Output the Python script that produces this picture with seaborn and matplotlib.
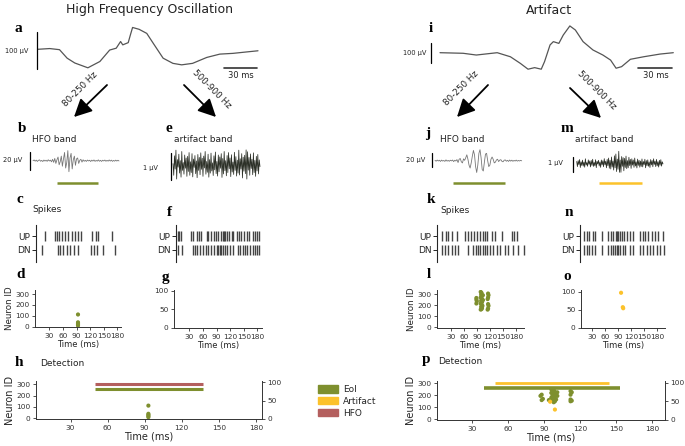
import numpy as np
import seaborn as sns
import matplotlib.pyplot as plt
from matplotlib.patches import Patch, FancyArrowPatch

# -------------------------------------------------
# data
# -------------------------------------------------
# raw traces (ms, µV)
hfo_raw_t = [0, 11, 20, 27, 34, 46, 57, 66, 72, 76, 78, 83, 85, 87, 93, 100, 106, 115,
             124, 132, 142, 155, 167, 179, 192, 202]
hfo_raw_v = [0, 2, -1, -24, -37, -50, -33, -2, 3, 21, 12, 18, 39, 59, 54, 43, 16, -24,
             -38, -42, -38, -22, -13, -11, -7, -4]
art_raw_t = [0, 21, 33, 52, 64, 73, 80, 86, 92, 95, 100, 103, 108, 112, 118, 123, 130,
             139, 148, 155, 160, 165, 173, 185, 200, 212]
art_raw_v = [0, -3, -12, 0, -21, -55, -85, -77, -85, -46, 40, 57, 48, 91, 138, 117, 57,
             14, -12, -38, -80, -72, -34, -21, -7, 0]

# 80-250 Hz band (µV), HFO case and artifact case
hfo_band = [0, 0.8, -0.5, 0.6, -0.8, 0.4, 0.9, -0.6, 0.3, -0.9, 0.7, -0.4, 0.5, -0.7, 1.0,
            -0.3, 0.6, -1.2, 1.5, -1.8,
            2.5, -3, 1, 4, -4.5, -1, 5, -6, 2, 9, -8, -2, 11, -12, 3, 8, -9, 1, 5, -5,
            2, 3, -3, 0.5, 1.5, -1.5,
            1.0, -0.6, 0.4, -0.8, 0.7, -0.3, 0.5, -0.9, 0.6, -0.4, 0.8, -0.7, 0.3, -0.5,
            0.9, -0.6, 0.4, -0.8, 0.5, -0.3, 0.7, -0.6, 0.4, -0.5, 0.8, -0.4, 0.6, -0.7,
            0.3, -0.5, 0.6, -0.4, 0.5, -0.3]
art_hfo_band = [0.5, -0.7, 0.9, -0.4, 0.6, -1.0, 0.8, -0.5, 0.3, -0.9, 1.1, -0.6, 0.4,
                -0.8, 0.7, -0.3, 0.9, -1.2, 0.6, -0.4, 1.5, -2.5, 2, 3, -1.5, -3, 2.5, 0.5,
                4, 8, 2, -6, -10, -3, 6, 14, 8, -8, -16, -6, 10, 15, 4, -12, -14, -2, 9, 10,
                0, -8, -6, 2, 5, 2, -3, -2, 1, 2,
                -1.2, 0.8, 1.4, -0.9, -1.5, 0.6, 1.1, -0.7, 0.5, -1.0, 0.9, -0.6, 0.7,
                -0.8, 0.4, -0.5, 0.8, -0.6, 0.3, -0.4, 0.5, -0.2]
# 500-900 Hz band (µV)
hfo_art_band = [0.05, -0.38, 0.34, -0.15, 0.55, -0.52, 0.2, -0.08, 0.4, -0.3,
                0.16, -0.45, 0.5, -0.2, 0.09, -0.34, 0.37, -0.12, 0.26, -0.42,
                0.32, -0.24, 0.46, -0.38, 0.12, -0.28, 0.42, -0.44, 0.22, -0.09,
                0.35, -0.32, 0.15, -0.47, 0.39, -0.2, 0.28, -0.36, 0.45, -0.16,
                0.25, -0.42, 0.33, -0.11, 0.5, -0.34, 0.13, -0.27, 0.4, -0.45,
                0.2, -0.3, 0.44, -0.22, 0.08, -0.39, 0.34, -0.18, 0.48, -0.32,
                0.13, -0.41, 0.37, -0.25, 0.3, -0.12, 0.42, -0.46, 0.24, -0.33,
                0.5, -0.21, 0.16, -0.4, 0.35, -0.28, 0.46, -0.14, 0.26, -0.43,
                0.38, -0.26, 0.11, -0.35, 0.47, -0.2, 0.31, -0.41, 0.18, -0.3,
                0.55, -0.37, 0.23, -0.15, 0.42, -0.48, 0.29, -0.23, 0.36, -0.32,
                0.56, -0.52, 0.49, -0.19, 0.28, -0.38, 0.41, -0.13, 0.21, -0.36,
                0.45, -0.28, 0.17, -0.42, 0.32, -0.22, 0.39, -0.33, 0.19, -0.06]
art_art_band = [0.12, -0.22, 0.18, -0.09, 0.25, -0.28, 0.1, -0.15, 0.21, -0.19,
                0.08, -0.26, 0.3, -0.12, 0.05, -0.2, 0.23, -0.07, 0.16, -0.24,
                0.19, -0.14, 0.27, -0.21, 0.06, -0.17, 0.24, -0.29, 0.13, -0.05,
                0.2, -0.18, 0.09, -0.27, 0.22, -0.11, 0.17, -0.23, 0.31, -0.1,
                0.14, -0.3, 0.26, -0.16, 0.35, -0.33, 0.2, -0.38, 0.42, -0.25,
                0.15, -0.45, 0.5, -0.3, 0.62, -0.55, 0.28, -0.4, 0.8, -0.6,
                0.22, -0.6, 0.45, -0.2, 0.38, -0.5, 0.33, -0.28, 0.48, -0.36,
                0.18, -0.3, 0.4, -0.15, 0.26, -0.34, 0.3, -0.12, 0.22, -0.27,
                0.35, -0.18, 0.1, -0.31, 0.28, -0.14, 0.2, -0.26, 0.15, -0.21,
                0.29, -0.24, 0.12, -0.09, 0.27, -0.3, 0.18, -0.16, 0.23, -0.2,
                0.09, -0.28, 0.25, -0.11, 0.19, -0.23, 0.3, -0.08, 0.14, -0.22,
                0.26, -0.17, 0.11, -0.25, 0.2, -0.13, 0.24, -0.19, 0.1, -0.04]
hfo_band_dt, art_hfo_band_dt, fast_dt = 2.3, 2.4, 1.6  # ms per sample

# spike times (ms)
c_up = [17, 41, 45, 51, 57, 65, 73, 81, 89, 97, 103, 129, 139, 143, 177]
c_dn = [9, 49, 53, 61, 69, 77, 86, 97, 126, 135, 141, 157, 185]
f_up = [0, 3, 8, 31, 35, 43, 49, 54, 66, 69, 75, 83, 87, 93, 100, 104, 106, 108, 112, 118,
        124, 127, 136, 141, 146, 152, 158, 164, 173, 177, 182, 187]
f_dn = [1, 9, 34, 39, 44, 51, 58, 64, 70, 77, 83, 89, 93, 96, 100, 104, 108, 112, 120, 126,
        139, 143, 149, 154, 159, 166, 172, 177, 182, 187]
k_up = [1.5, 11, 16, 24, 35, 53, 60, 65, 73, 79, 86, 92, 97, 102, 112, 119, 134, 156, 161, 167]
k_dn = [1.5, 9, 16, 24, 31, 38, 60, 71, 77, 82, 86, 92, 97, 102, 108, 115, 123, 130, 141, 148,
        159, 170, 183]
n_up = [2, 8, 14, 21, 26, 41, 56, 61, 67, 73, 74, 78, 81, 85, 90, 96, 103, 111, 125, 131, 136,
        144, 151, 158, 166, 177]
n_dn = [2, 8, 14, 19, 26, 41, 56, 61, 65, 70, 74, 78, 81, 87, 92, 103, 111, 125, 132, 140, 147,
        154, 162, 169, 178]

# neurons of the spiking network that fired (time ms, neuron id)
d_time = [93, 93, 93, 93, 93]
d_id = [10, 20, 30, 40, 112]
l_time = [88, 88, 89, 88, 98, 100, 99, 101, 98, 100, 102, 99, 101, 98, 100, 102, 99, 101, 100,
          98, 103, 103, 115, 116, 115, 114, 115, 116, 115, 114]
l_id = [265, 250, 235, 215, 320, 310, 295, 285, 270, 262, 250, 240, 228, 215, 205, 195, 185,
        175, 165, 160, 245, 290, 305, 290, 270, 255, 210, 195, 170, 160]
o_time = [97, 101, 102]
o_id = [97, 57, 54]
p_time = [88, 87, 89, 88, 96, 98, 97, 99, 96, 98, 100, 97, 99, 96, 98, 100, 97, 99, 98, 101,
          101, 94, 112, 113, 112, 112, 113, 112]
p_id = [205, 195, 170, 160, 250, 245, 235, 228, 220, 212, 205, 198, 190, 180, 172, 165, 158,
        150, 142, 195, 225, 160, 235, 225, 205, 165, 155, 150]
p_art_time = [95, 99]
p_art_id = [49, 28]

# detected windows (ms)
hfo_eoi_win = (50, 137)
hfo_hfo_win = (50, 137)
art_eoi_win = (40, 153)
art_art_win = (49, 144)

time_ticks = [30, 60, 90, 120, 150, 180]
EOI, ART, HFO = "#7e8f2e", "#fcc22b", "#b45f5e"

# -------------------------------------------------
# helpers (layout in reference pixels, top-left origin)
# -------------------------------------------------
W, H = 685, 446
sns.set_style("ticks")
plt.rcParams["font.family"] = ["DejaVu Sans"]
fig = plt.figure(figsize=(W / 100, H / 100), dpi=100)


def add_ax(x0, y0, x1, y1):
    return fig.add_axes([x0 / W, 1 - y1 / H, (x1 - x0) / W, (y1 - y0) / H])


def span(lo, hi, p0, v0, p1, v1):
    s = (v1 - v0) / (p1 - p0)
    return v0 + (lo - p0) * s, v0 + (hi - p0) * s


def txt(x, y, s, size=6.5, **kw):
    kw.setdefault("va", "center")
    fig.text(x / W, 1 - y / H, s, fontsize=size, color="#222222", **kw)


def letter(x, y, s):
    fig.text(x / W, 1 - y / H, s, fontsize=11, ha="center", va="center",
             family="Liberation Serif", weight="bold", color="black")


def arrow(x0, y0, x1, y1):
    fig.add_artist(FancyArrowPatch((x0 / W, 1 - y0 / H), (x1 / W, 1 - y1 / H),
                                   transform=fig.transFigure, color="black", lw=1.3,
                                   arrowstyle="-|>,head_length=0.9,head_width=0.45",
                                   mutation_scale=12, shrinkA=0, shrinkB=0))


def trace(box, t, v, xref, yref, color, lw, bar_px, bar_lo, bar_hi):
    ax = add_ax(*box)
    sns.lineplot(x=t, y=v, ax=ax, color=color, lw=lw, estimator=None)
    ax.set_xlim(span(box[0], box[2], *xref))
    ax.set_ylim(span(box[3], box[1], *yref))
    bx = span(bar_px, bar_px, *xref)[0]
    ax.plot([bx, bx], [bar_lo, bar_hi], color="black", lw=0.9, clip_on=False)
    ax.axis("off")
    return ax


def raster(box, up, dn, xref):
    ax = add_ax(*box)
    ax.eventplot([dn, up], lineoffsets=[0, 1], linelengths=0.65, colors="#444444",
                 linewidths=1.0)
    ax.set_xlim(span(box[0], box[2], *xref))
    ax.set_ylim(-0.86, 1.79)
    ax.set_yticks([0, 1], ["DN", "UP"])
    ax.set_xticks([])
    sns.despine(ax=ax, bottom=True)
    ax.spines["left"].set_linewidth(0.8)
    ax.tick_params(axis="y", length=3, width=0.7, pad=1, labelsize=6.5)
    ax.set_facecolor("none")


def style_ax(ax, size=5.3):
    for s in ax.spines.values():
        s.set_linewidth(0.7)
        s.set_color("#333333")
    ax.tick_params(length=2.5, width=0.6, pad=1.5, labelsize=size, colors="#333333")
    ax.set_facecolor("none")


def scatter(box, xlim, ylim, yticks, times, ids, color, ylabel=True):
    ax = add_ax(*box)
    if times:
        sns.scatterplot(x=times, y=ids, ax=ax, color=color, s=9, edgecolor="none")
    ax.set_xlim(xlim)
    ax.set_ylim(ylim)
    ax.set_xticks(time_ticks)
    ax.set_yticks(yticks)
    sns.despine(ax=ax)
    style_ax(ax)
    ax.set_xlabel("Time (ms)", fontsize=6, labelpad=1)
    ax.set_ylabel("Neuron ID" if ylabel else "", fontsize=6.3, labelpad=1)
    return ax


def detection(box, xlim, ylim, ylim2, times, ids, wins, art_times=None, art_ids=None):
    ax = add_ax(*box)
    ax2 = ax.twinx()
    for level, (a, b), color, lw in wins:
        ax.hlines(level, a, b, color=color, lw=lw)
    sns.scatterplot(x=times, y=ids, ax=ax, color=EOI, s=9, edgecolor="none", zorder=3)
    if art_times:
        sns.scatterplot(x=art_times, y=art_ids, ax=ax2, color=ART, s=9, edgecolor="none")
    ax.set_xlim(xlim)
    ax.set_ylim(ylim)
    ax2.set_ylim(ylim2)
    ax.set_xticks(time_ticks)
    ax.set_yticks([0, 100, 200, 300])
    ax2.set_yticks([0, 50, 100])
    sns.despine(ax=ax)
    ax2.spines["top"].set_visible(False)
    ax2.spines["left"].set_visible(False)
    ax2.spines["bottom"].set_visible(False)
    style_ax(ax)
    style_ax(ax2)
    ax.set_xlabel("Time (ms)", fontsize=7, labelpad=1)
    ax.set_ylabel("Neuron ID", fontsize=7, labelpad=1)
    ax2.set_ylabel("")


# -------------------------------------------------
# left column: High Frequency Oscillation
# -------------------------------------------------
txt(149, 10, "High Frequency Oscillation", size=9, ha="center")
ax_a = trace((30, 20, 262, 80), hfo_raw_t, hfo_raw_v, (37.7, 0, 258, 202),
             (49.3, 0, 12.3, 100), "#555555", 0.9, 37, -53, 47)
ax_a.plot([171, 201], [-50.5, -50.5], color="#333333", lw=1.2)
txt(5, 51, "100 µV", size=4.8)
txt(241, 76, "30 ms", size=6, ha="center")

arrow(107, 85, 74, 117)
arrow(184, 85, 216, 117)
txt(80, 89, "80-250 Hz", size=6.3, ha="center", rotation=45)
txt(212, 89, "500-900 Hz", size=6.3, ha="center", rotation=-45)

n_b = len(hfo_band)
ax_b = trace((26, 143, 124, 190), np.arange(n_b) * hfo_band_dt, hfo_band,
             (33, 0, 119, (n_b - 1) * hfo_band_dt), (160.7, 0, 142.4, 20),
             "#777777", 0.6, 30, -10.2, 9.8)
ax_b.hlines(0.14, *hfo_eoi_win, color=EOI, lw=1.8, transform=ax_b.get_xaxis_transform())
txt(32, 139, "HFO band")
txt(3, 160, "20 µV", size=4.8)

n_e = len(hfo_art_band)
trace((166, 143, 264, 190), np.arange(n_e) * fast_dt, hfo_art_band,
      (173, 0, 260, (n_e - 1) * fast_dt), (165, 0, 138, 1),
      "#2d3128", 0.55, 170.7, -0.55, 0.45)
txt(174, 139, "artifact band")
txt(143, 168, "1 µV", size=4.8)

txt(32, 210, "Spikes")
raster((36, 225, 122, 262), c_up, c_dn, (38, 0, 118, 192))
raster((176, 225, 263, 262), f_up, f_dn, (178, 0, 278, 230))

scatter((35, 290, 121, 327), (-2, 188), (-3, 337), [0, 100, 200, 300], d_time, d_id, EOI)
scatter((174, 290, 262, 328), (-4, 190), (-0.8, 102.7), [0, 50, 100], [], [], EOI,
        ylabel=False)

txt(40, 364, "Detection")
detection((36, 381, 262, 419), (2, 185), (-6, 329), (-0.5, 103.5), d_time, d_id,
          [(305, hfo_hfo_win, HFO, 2.2), (260, hfo_eoi_win, EOI, 2.2)])

# -------------------------------------------------
# right column: Artifact
# -------------------------------------------------
txt(549, 10, "Artifact", size=9, ha="center")
ax_i = trace((425, 20, 680, 80), art_raw_t, art_raw_v, (440, 0, 673.3, 212),
             (52.7, 0, 33.3, 100), "#555555", 0.9, 431, -52, 48)
ax_i.plot([180, 211], [-79, -79], color="#333333", lw=1.2)
txt(403, 52.7, "100 µV", size=4.8)
txt(656, 76, "30 ms", size=6, ha="center")

arrow(488, 85, 457, 117)
arrow(570, 88, 601, 118)
txt(461, 88, "80-250 Hz", size=6.3, ha="center", rotation=45)
txt(597, 90, "500-900 Hz", size=6.3, ha="center", rotation=-45)

n_j = len(art_hfo_band)
ax_j = trace((428, 143, 526, 190), np.arange(n_j) * art_hfo_band_dt, art_hfo_band,
             (435, 0, 521.7, (n_j - 1) * art_hfo_band_dt), (160.7, 0, 146, 20),
             "#777777", 0.6, 432, -9.0, 10.9)
ax_j.hlines(0.14, *art_eoi_win, color=EOI, lw=1.8, transform=ax_j.get_xaxis_transform())
txt(440, 139, "HFO band")
txt(406, 160, "20 µV", size=4.8)

n_m = len(art_art_band)
ax_m = trace((570, 143, 667, 190), np.arange(n_m) * fast_dt, art_art_band,
             (576.7, 0, 663, (n_m - 1) * fast_dt), (163.3, 0, 148.3, 1),
             "#2d3128", 0.55, 573.3, -0.56, 0.44)
ax_m.hlines(0.14, *art_art_win, color=ART, lw=1.8, transform=ax_m.get_xaxis_transform())
txt(575, 139, "artifact band")
txt(548, 163, "1 µV", size=4.8)

txt(440, 211, "Spikes")
raster((437, 225, 528, 262), k_up, k_dn, (441, 0, 541, 220))
raster((580, 225, 667, 262), n_up, n_dn, (583, 0, 683, 220))

scatter((437, 290, 524, 328), (-3, 198), (-6, 337), [0, 100, 200, 300], l_time, l_id, EOI)
scatter((581, 290, 665, 328), (4, 199), (-0.8, 104.7), [0, 50, 100], o_time, o_id, ART,
        ylabel=False)

txt(438, 361, "Detection")
detection((437, 381, 665, 420), (1, 190.5), (-6, 319), (0, 104.5), p_time, p_id,
          [(300, art_art_win, ART, 2.0), (263, art_eoi_win, EOI, 2.6)],
          p_art_time, p_art_id)

# legend
fig.legend(handles=[Patch(color=EOI, label="EoI"), Patch(color=ART, label="Artifact"),
                    Patch(color=HFO, label="HFO")],
           loc="upper left", bbox_to_anchor=(310 / W, 1 - 377 / H), frameon=False,
           fontsize=6.5, handlelength=2.2, handleheight=0.9, labelspacing=0.3,
           handletextpad=0.6)

# panel letters
for s, x, y in [("a", 18, 29), ("b", 22, 129), ("c", 20, 199), ("d", 21, 275),
                ("e", 169, 129), ("f", 169, 213), ("g", 165, 277), ("h", 19, 363),
                ("i", 431, 28), ("j", 428, 133), ("k", 431, 200), ("l", 429, 275),
                ("m", 567, 128), ("n", 569, 213), ("o", 567, 276), ("p", 426, 360)]:
    letter(x, y, s)

fig.savefig("out.png", dpi=100)
